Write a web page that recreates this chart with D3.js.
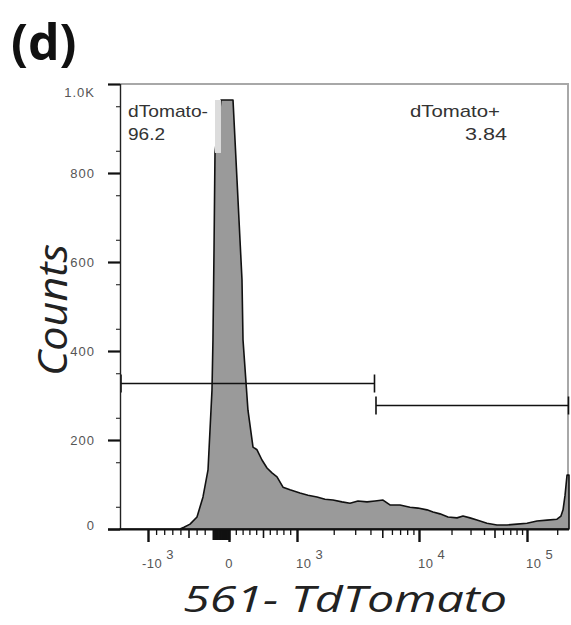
<!DOCTYPE html>
<html>
<head>
<meta charset="utf-8">
<script src="https://cdn.jsdelivr.net/npm/d3@7"></script>
<style>
body { margin: 0; background: #fff; }
</style>
</head>
<body>
<div id="chart"></div>
<script>
// Histogram outline (fluorescence value, event count)
const fluor = [-2200, -605, -556, -481, -395, -321, -259, -210, -198, -185, -173, -99,
    59, 118, 162, 191, 206, 279, 353, 412, 485, 559, 632, 706, 794, 897,
    1058, 1231, 1459, 1696, 1972, 2337, 2718, 3161, 3748, 4358, 5070, 5780, 6980, 8440, 9800,
    11860, 13480, 15640, 18560, 22490, 25550, 29650, 34400, 42600, 52700, 65300, 80800,
    100000, 125800, 158200, 199000, 218000, 228600, 239500, 250500, 262144];
const counts = [0, 0, 4, 11, 27, 72, 133, 312, 425, 627, 845, 964,
    964, 784, 649, 560, 425, 267, 184, 178, 155, 137, 126, 117, 94, 88,
    81, 76, 72, 67, 65, 61, 58, 63, 61, 63, 65, 54, 54, 49, 47,
    43, 38, 34, 27, 25, 29, 25, 20, 13, 9, 9, 11,
    13, 18, 20, 22, 29, 43, 76, 121, 121];

// off-scale part of the peak, shown lighter
const clipFrom = -173, clipTo = -99, clipLow = 845, clipHigh = 964;

// axis ticks
const yMajor = [0, 200, 400, 600, 800, 1000];
const yLabels = ["0", "200", "400", "600", "800", "1.0K"];
const yMinor = d3.range(50, 1000, 100);
const xMajor = [-1000, 0, 1000, 10000, 100000];
const xLabelBase = ["-10", "0", "10", "10", "10"];
const xLabelExp = ["3", "", "3", "4", "5"];
const xMedium = [-500, 500, 5000, 50000];
const xMinor = [-900, -800, -700, -600, -400, -300, 100, 200, 300, 400, 600, 700, 800, 900,
    2000, 3000, 4000, 6000, 7000, 8000, 9000,
    20000, 30000, 40000, 60000, 70000, 80000, 90000, 200000];
const xZero = d3.range(-200, 1, 10);

// gates
const gateNames = ["dTomato-", "dTomato+"];
const gatePcts = ["96.2", "3.84"];
const gateFrom = [-2200, 4358];
const gateTo = [4358, 262144];
const gateLevel = [328, 279];

const width = 571, height = 625;

// linear around zero, log beyond +-1000 (display transform of the cytometer axis)
function biex(v) {
    if (Math.abs(v) <= 1000) return v / 1000;
    return Math.sign(v) * (1 + Math.log10(Math.abs(v) / 1000));
}

const xT = d3.scaleLinear()
    .domain([-2200, -1000, 0, 1000, 1e4, 1e5, 262144].map(biex))
    .range([120, 148, 229, 297, 419, 527, 569]);
const x = v => xT(biex(v));

const y = d3.scaleLinear()
    .domain([0, 1000])
    .range([529, 84]);

const svg = d3.select("#chart")
    .append("svg")
    .attr("width", width)
    .attr("height", height)
    .style("font-family", "'Liberation Sans', Arial, sans-serif");

// gray frame top / right
svg.append("path")
    .attr("d", `M120,${y(1000)}H568V${y(0)}`)
    .attr("fill", "none")
    .attr("stroke", "#a8a8a8")
    .attr("stroke-width", 2);

// histogram
const idx = d3.range(fluor.length);
const area = d3.area()
    .x(i => x(fluor[i]))
    .y0(y(0))
    .y1(i => y(counts[i]));

svg.append("path")
    .datum(idx)
    .attr("d", area)
    .attr("fill", "#9a9a9a")
    .attr("stroke", "#111")
    .attr("stroke-width", 1.6)
    .attr("stroke-linejoin", "round");

svg.append("rect")
    .attr("x", x(clipFrom))
    .attr("y", y(clipHigh))
    .attr("width", x(clipTo) - x(clipFrom))
    .attr("height", y(clipLow) - y(clipHigh))
    .attr("fill", "#dcdcdc");

// gates
gateNames.forEach((g, i) => {
    const gy = Math.round(y(gateLevel[i])) + 0.5;
    const x0 = x(gateFrom[i]) + 1, x1 = x(gateTo[i]) - 0.5;
    svg.append("path")
        .attr("d", `M${x0},${gy - 9}V${gy + 9}M${x0},${gy}H${x1}M${x1},${gy - 9}V${gy + 9}`)
        .attr("fill", "none")
        .attr("stroke", "#111")
        .attr("stroke-width", 1.6);
});

// gate labels
svg.append("text").attr("x", 128).attr("y", 117)
    .attr("font-size", 17).attr("fill", "#333")
    .attr("textLength", 80).attr("lengthAdjust", "spacingAndGlyphs")
    .text(gateNames[0]);
svg.append("text").attr("x", 128).attr("y", 140)
    .attr("font-size", 17).attr("fill", "#333")
    .attr("textLength", 37).attr("lengthAdjust", "spacingAndGlyphs")
    .text(gatePcts[0]);
svg.append("text").attr("x", 410).attr("y", 117)
    .attr("font-size", 17).attr("fill", "#333")
    .attr("textLength", 90).attr("lengthAdjust", "spacingAndGlyphs")
    .text(gateNames[1]);
svg.append("text").attr("x", 465).attr("y", 140)
    .attr("font-size", 17).attr("fill", "#333")
    .attr("textLength", 42).attr("lengthAdjust", "spacingAndGlyphs")
    .text(gatePcts[1]);

// y axis
function yTicks(values, size, w) {
    const g = svg.append("g")
        .attr("transform", "translate(120,0)")
        .call(d3.axisLeft(y).tickValues(values).tickSize(size).tickFormat(""));
    g.select(".domain").remove();
    g.selectAll("line").attr("stroke", "#111").attr("stroke-width", w);
}
yTicks(yMajor, 12, 2.2);
yTicks(yMinor, 4, 1);

yMajor.forEach((v, i) => {
    let ty = y(v) + 4.5;
    if (v === 1000) ty += 8;
    if (v === 0) ty -= 4;
    svg.append("text")
        .attr("x", 95)
        .attr("y", ty)
        .attr("text-anchor", "end")
        .attr("font-size", 13)
        .attr("letter-spacing", 1)
        .attr("fill", "#555")
        .text(yLabels[i]);
});

svg.append("line")
    .attr("x1", 120.5).attr("x2", 120.5)
    .attr("y1", y(1000)).attr("y2", y(0))
    .attr("stroke", "#222").attr("stroke-width", 1.4);

// x axis
function xTicks(values, size, w) {
    const g = svg.append("g")
        .attr("transform", `translate(0,${y(0) + 1})`)
        .call(d3.axisBottom(xT).tickValues(values.map(biex)).tickSize(size).tickFormat(""));
    g.select(".domain").remove();
    g.selectAll("line").attr("stroke", "#111").attr("stroke-width", w);
}
xTicks(xMajor, 12, 2.4);
xTicks(xMedium, 8, 1.6);
xTicks(xMinor, 5, 1.3);
xTicks(xZero, 10, 1.6);

svg.append("line")
    .attr("x1", 108).attr("x2", 569)
    .attr("y1", y(0) + 0.5).attr("y2", y(0) + 0.5)
    .attr("stroke", "#111").attr("stroke-width", 2);

xMajor.forEach((v, i) => {
    const tx = x(v);
    const t = svg.append("text")
        .attr("y", 568)
        .attr("font-size", 13)
        .attr("letter-spacing", 0.5)
        .attr("fill", "#555");
    if (xLabelExp[i] === "") {
        t.attr("x", tx).attr("text-anchor", "middle").text(xLabelBase[i]);
    } else {
        t.attr("x", v < 0 ? tx - 6 : tx - 1);
        t.append("tspan").text(xLabelBase[i]);
        t.append("tspan").attr("dx", 4).attr("dy", -9).text(xLabelExp[i]);
    }
});

// titles
svg.append("text")
    .attr("transform", "translate(67,310) rotate(-90)")
    .attr("text-anchor", "middle")
    .attr("font-family", "'Open Sans', sans-serif")
    .attr("font-style", "italic")
    .attr("font-size", 40)
    .attr("fill", "#222")
    .attr("textLength", 132).attr("lengthAdjust", "spacingAndGlyphs")
    .text("Counts");

svg.append("text")
    .attr("x", 183)
    .attr("y", 612)
    .attr("font-family", "'Open Sans', sans-serif")
    .attr("font-style", "italic")
    .attr("font-size", 37)
    .attr("fill", "#222")
    .attr("textLength", 324).attr("lengthAdjust", "spacingAndGlyphs")
    .text("561- TdTomato");

svg.append("text")
    .attr("x", 11)
    .attr("y", 60)
    .attr("font-family", "'Open Sans', sans-serif")
    .attr("font-weight", "bold")
    .attr("font-size", 50)
    .attr("fill", "#111")
    .text("(d)");
</script>
</body>
</html>
